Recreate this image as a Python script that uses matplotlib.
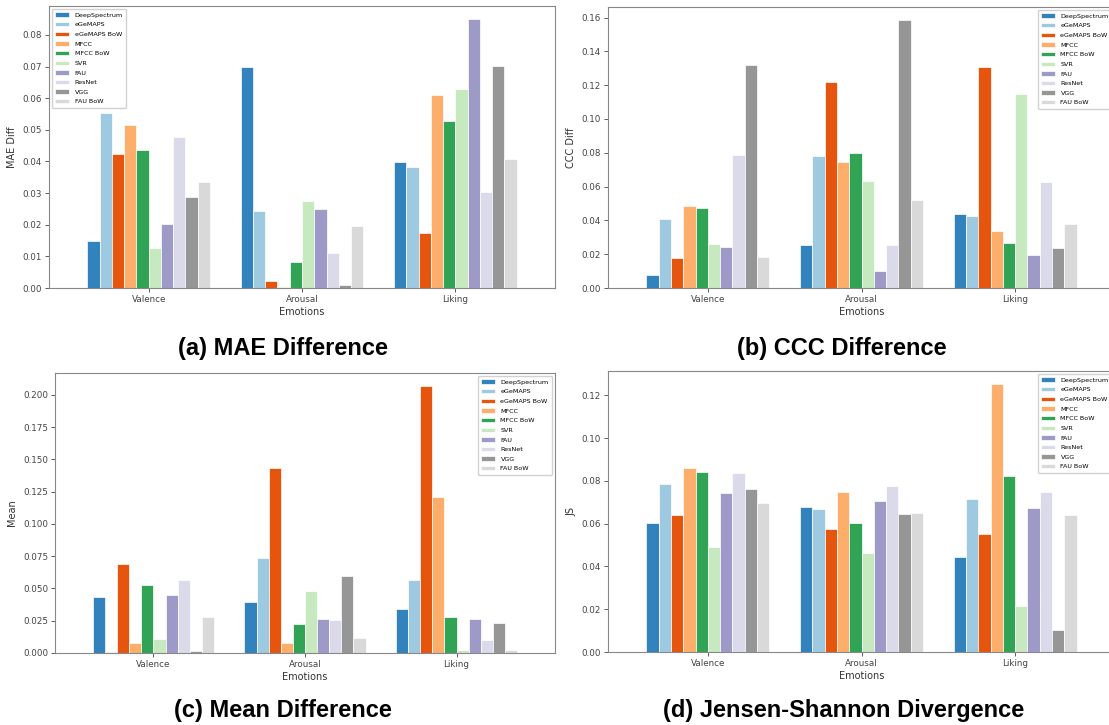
import numpy as np
import matplotlib
matplotlib.use("Agg")
from matplotlib import pyplot as plt

emotions = ["Valence", "Arousal", "Liking"]
features = ["DeepSpectrum", "eGeMAPS", "eGeMAPS BoW", "MFCC", "MFCC BoW",
            "SVR", "FAU", "ResNet", "VGG", "FAU BoW"]
colors = ["#3182bd", "#9ecae1", "#e6550d", "#fdae6b", "#31a354",
          "#c7e9c0", "#9e9ac8", "#dadaeb", "#969696", "#d9d9d9"]

# rows = features, columns = Valence / Arousal / Liking
mae_diff = [
    [0.0150, 0.0698, 0.0399],
    [0.0554, 0.0242, 0.0381],
    [0.0424, 0.0022, 0.0175],
    [0.0515, 0.0004, 0.0609],
    [0.0435, 0.0083, 0.0527],
    [0.0128, 0.0274, 0.0628],
    [0.0203, 0.0250, 0.0849],
    [0.0477, 0.0112, 0.0305],
    [0.0289, 0.0008, 0.0702],
    [0.0334, 0.0196, 0.0407],
]
ccc_diff = [
    [0.0079, 0.0256, 0.0437],
    [0.0407, 0.0781, 0.0423],
    [0.0175, 0.1220, 0.1307],
    [0.0484, 0.0748, 0.0339],
    [0.0476, 0.0801, 0.0266],
    [0.0260, 0.0634, 0.1146],
    [0.0240, 0.0102, 0.0197],
    [0.0785, 0.0256, 0.0626],
    [0.1319, 0.1583, 0.0236],
    [0.0183, 0.0522, 0.0378],
]
mean_diff = [
    [0.0433, 0.0396, 0.0342],
    [0.0005, 0.0733, 0.0562],
    [0.0687, 0.1435, 0.2065],
    [0.0080, 0.0075, 0.1207],
    [0.0528, 0.0223, 0.0282],
    [0.0109, 0.0477, 0.0026],
    [0.0453, 0.0267, 0.0262],
    [0.0567, 0.0254, 0.0098],
    [0.0018, 0.0598, 0.0236],
    [0.0282, 0.0119, 0.0026],
]
js_div = [
    [0.0604, 0.0677, 0.0444],
    [0.0786, 0.0668, 0.0713],
    [0.0640, 0.0574, 0.0551],
    [0.0861, 0.0749, 0.1251],
    [0.0840, 0.0604, 0.0825],
    [0.0489, 0.0462, 0.0216],
    [0.0741, 0.0705, 0.0672],
    [0.0836, 0.0777, 0.0749],
    [0.0761, 0.0643, 0.0101],
    [0.0696, 0.0649, 0.0641],
]

W, H = 1109, 725
fig = plt.figure(figsize=(W / 100, H / 100), dpi=100)


def add_axes_px(left, top, right, bottom):
    return fig.add_axes([left / W, 1 - bottom / H, (right - left) / W, (bottom - top) / H])


def draw_panel(ax, data, ylabel, legend_loc):
    x = np.arange(len(emotions))
    w = 0.08
    for i, (name, c) in enumerate(zip(features, colors)):
        ax.bar(x + (i - 4.5) * w, data[i], width=w, color=c, label=name,
               edgecolor="white", linewidth=0.5)
    ax.set_xlim(-0.65, 2.65)
    ax.set_xticks(x)
    ax.set_xticklabels(emotions)
    ax.set_xlabel("Emotions", fontsize=7, color="#333333", labelpad=2)
    ax.set_ylabel(ylabel, fontsize=7, color="#333333", labelpad=4)
    ax.tick_params(labelsize=6.3, colors="#444444", length=3, width=0.6, pad=2)
    for s in ax.spines.values():
        s.set_color("#888888")
        s.set_linewidth(0.8)
    ax.legend(loc=legend_loc, fontsize=4.6, handlelength=2.2,
              labelspacing=0.65, borderpad=0.5, framealpha=0.9, edgecolor="#cccccc")


ax_a = add_axes_px(49, 6, 555, 288)
draw_panel(ax_a, mae_diff, "MAE Diff", "upper left")
ax_b = add_axes_px(608, 7, 1115, 288)
draw_panel(ax_b, ccc_diff, "CCC Diff", "upper right")
ax_c = add_axes_px(55, 373, 555, 653)
draw_panel(ax_c, mean_diff, "Mean", "upper right")
ax_d = add_axes_px(608, 371, 1115, 652)
draw_panel(ax_d, js_div, "JS", "upper right")

cap = dict(fontsize=17, fontweight="bold", family="Liberation Sans",
           ha="center", va="center")
fig.text(283 / W, 1 - 348 / H, "(a) MAE Difference", **cap)
fig.text(842 / W, 1 - 348 / H, "(b) CCC Difference", **cap)
fig.text(283 / W, 1 - 711 / H, "(c) Mean Difference", **cap)
fig.text(844 / W, 1 - 711 / H, "(d) Jensen-Shannon Divergence", **cap)

fig.savefig("out.png", dpi=100)
